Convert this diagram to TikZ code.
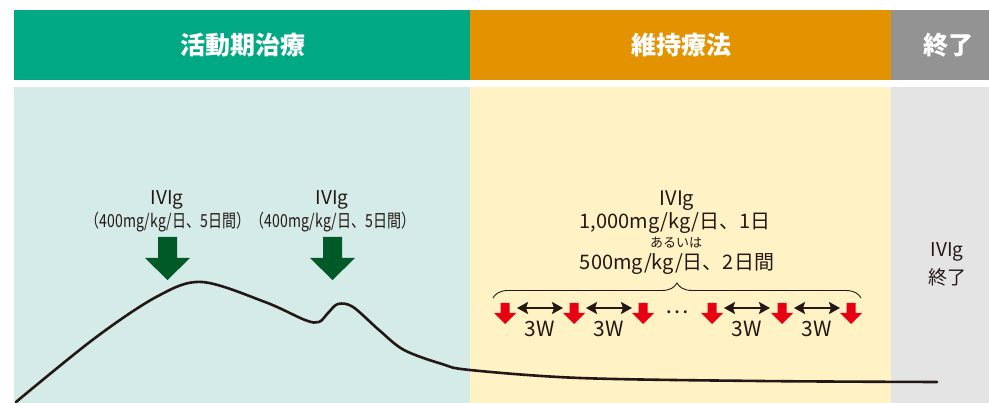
\documentclass[tikz,border=0pt]{standalone}
\usepackage{fontspec}
\setmainfont{Noto Sans CJK JP}
\newfontfamily\condfont[FakeStretch=0.78]{Noto Sans CJK JP}
\usetikzlibrary{arrows.meta,decorations.pathreplacing}
\definecolor{hgreen}{HTML}{00A984}
\definecolor{horange}{HTML}{E39300}
\definecolor{hgray}{HTML}{939393}
\definecolor{bgreen}{HTML}{D5EBE7}
\definecolor{byellow}{HTML}{FFF2C4}
\definecolor{bgray}{HTML}{E4E4E4}
\definecolor{txt}{HTML}{231815}
\definecolor{dgreen}{HTML}{005A28}
\definecolor{ared}{HTML}{E60012}
\tikzset{
  head/.style={text=white,font=\bfseries\fontsize{25}{28}\selectfont,inner sep=0pt},
  lbl/.style={text=txt,inner sep=0pt},
  bigarrow/.pic={\fill[dgreen] (-9.5,0) -- (9.5,0) -- (9.5,21) -- (22.5,21) -- (0,43) -- (-22.5,21) -- (-9.5,21) -- cycle;},
  redarrow/.pic={\fill[ared] (-4.5,0) -- (4.5,0) -- (4.5,10) -- (11,10) -- (0,21) -- (-11,10) -- (-4.5,10) -- cycle;},
  dblarrow/.style={arrows={Stealth[length=11pt,width=12pt,inset=2pt]-Stealth[length=11pt,width=12pt,inset=2pt]},line width=2.4pt,draw=txt},
  wlbl/.style={lbl,font=\fontsize{21}{22}\selectfont}
}
\begin{document}
\begin{tikzpicture}[x=1pt,y=-1pt]
\useasboundingbox (0,0) rectangle (989,403);
% header
\fill[hgreen] (14,10) rectangle (470,80);
\fill[horange] (470,10) rectangle (891,80);
\fill[hgray] (891,10) rectangle (989,80);
\fill[bgreen] (14,87) rectangle (470,403);
\fill[byellow] (470,87) rectangle (891,403);
\fill[bgray] (891,87) rectangle (989,403);
\node[head] (h1) at (243,45) {活動期治療};
\node[head] (h2) at (681,45) {維持療法};
\node[head] (h3) at (948,45) {終了};
% active phase labels
\node[lbl,font=\fontsize{19}{20}\selectfont] (a1) at (167,200) {IVIg};
\node[lbl,font=\condfont\fontsize{18}{20}\selectfont] (a2) at (168,222) {（400mg/kg/日、5日間）};
\node[lbl,font=\fontsize{19}{20}\selectfont] (b1) at (332,200) {IVIg};
\node[lbl,font=\condfont\fontsize{18}{20}\selectfont] (b2) at (333,222) {（400mg/kg/日、5日間）};
\pic at (167.5,237) {bigarrow};
\pic at (332.5,237) {bigarrow};
% maintenance labels
\node[lbl,font=\fontsize{20}{22}\selectfont] (m1) at (677,201) {IVIg};
\node[lbl,font=\fontsize{20}{22}\selectfont] (m2) at (675,223) {1,000mg/kg/日、1日};
\node[lbl,font=\fontsize{13}{14}\selectfont] (m3) at (676,243) {あるいは};
\node[lbl,font=\fontsize{20}{22}\selectfont] (m4) at (677,264) {500mg/kg/日、2日間};
\draw[txt,line width=0.9pt,decorate,decoration={brace,amplitude=15pt,aspect=0.5}] (493,298) -- (861,298);
% red arrows
\foreach \x in {505,574,643,712,782,851} {\pic at (\x,303) {redarrow};}
\coordinate (d1a) at (517,308); \coordinate (d1b) at (563,308);
\coordinate (d2a) at (586,308); \coordinate (d2b) at (632,308);
\coordinate (d3a) at (724,308); \coordinate (d3b) at (770,308);
\coordinate (d4a) at (794,308); \coordinate (d4b) at (840,308);
\draw[dblarrow] (d1a) -- (d1b);
\draw[dblarrow] (d2a) -- (d2b);
\draw[dblarrow] (d3a) -- (d3b);
\draw[dblarrow] (d4a) -- (d4b);
\node[wlbl] (w1) at (540,329) {3W};
\node[wlbl] (w2) at (609,329) {3W};
\node[wlbl] (w3) at (747,329) {3W};
\node[wlbl] (w4) at (817,329) {3W};
\node[lbl,font=\fontsize{22}{22}\selectfont] (dots) at (677,312) {…};
% end labels
\node[lbl,font=\fontsize{19}{20}\selectfont] (e1) at (947,252) {IVIg};
\node[lbl,font=\fontsize{19}{20}\selectfont] (e2) at (947,277) {終了};
% curve
\draw[txt,line width=2.6pt,line cap=round] plot[smooth,tension=0.55] coordinates {
 (16,402) (95,338) (158,296) (202,282) (265,302) (305,320) (319,322) (328,313) (338,304) (353,307) (379,330) (404,350) (442,364) (470,370) (580,378) (760,381) (937,382)};
\end{tikzpicture}
\end{document}
